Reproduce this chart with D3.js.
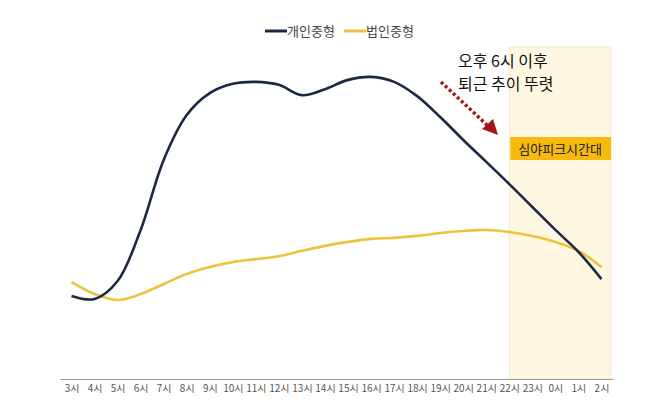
<!DOCTYPE html>
<html><head><meta charset="utf-8">
<script src="https://cdn.jsdelivr.net/npm/d3@7"></script>
<style>body{margin:0;background:#fff;font-family:"Noto Sans CJK KR","Noto Sans",sans-serif}</style>
</head><body><svg id="c" width="658" height="412"></svg>
<script>
const hours = ["3시","4시","5시","6시","7시","8시","9시","10시","11시","12시","13시","14시","15시","16시","17시","18시","19시","20시","21시","22시","23시","0시","1시","2시"];
const personal = [25.0,24.1,29.5,44.9,66.0,79.5,86.1,88.9,89.5,88.6,85.5,87.3,90.1,91.0,89.5,85.2,78.9,72.0,65.4,58.7,51.8,44.9,38.3,30.1];
const corporate = [29.2,25.6,23.8,25.6,28.6,31.6,33.7,35.2,36.1,37.0,38.6,40.1,41.3,42.2,42.5,43.1,44.0,44.6,44.9,44.3,43.1,41.3,38.6,33.7];
const seriesNames = ["개인중형","법인중형"];
const bandStart = "22시", bandEnd = "2시";
const bandLabel = "심야피크시간대";
const noteLines = ["오후 6시 이후","퇴근 추이 뚜렷"];

const svg = d3.select("#c");
const x = d3.scalePoint().domain(hours).range([60,613]).padding(0.5);
const y = d3.scaleLinear().domain([0,100]).range([379,47]);

// band
const bx0 = x(bandStart), bx1 = 611;
svg.append("rect").attr("x",bx0).attr("y",y(100)).attr("width",bx1-bx0).attr("height",y(0)-y(100))
  .attr("fill","#fff7e1").attr("stroke","#f6ebc9").attr("stroke-width",1);
svg.append("rect").attr("x",bx0+1).attr("y",137).attr("width",bx1-bx0-1).attr("height",23).attr("fill","#f7b90b");
svg.append("text").attr("x",(bx0+bx1)/2).attr("y",153.5).attr("text-anchor","middle")
  .attr("font-size",13).attr("fill","#222").text(bandLabel);

// axis
const ax = svg.append("g").attr("transform","translate(0,379)")
  .call(d3.axisBottom(x).tickSize(0).tickPadding(6).tickSizeOuter(0));
ax.select(".domain").attr("stroke","#9a9a9a").attr("stroke-width",1.2);
ax.selectAll("text").attr("font-size",10).attr("fill","#555").attr("font-family","'Noto Sans CJK KR',sans-serif");

// lines
const line = d3.line().x((d,i)=>x(hours[i])).y(d=>y(d)).curve(d3.curveCatmullRom.alpha(0.5));
svg.append("path").datum(corporate).attr("d",line).attr("fill","none").attr("stroke","#ebc43c").attr("stroke-width",2.6);
svg.append("path").datum(personal).attr("d",line).attr("fill","none").attr("stroke","#1d2844").attr("stroke-width",2.6);

// legend
const lg = svg.append("g");
const legendItems = [{name:seriesNames[0],c:"#1d2844",x:265},{name:seriesNames[1],c:"#ebc43c",x:344}];
legendItems.forEach(it=>{
  lg.append("line").attr("x1",it.x).attr("x2",it.x+22).attr("y1",31).attr("y2",31).attr("stroke",it.c).attr("stroke-width",3);
  lg.append("text").attr("x",it.x+22).attr("y",35.5).attr("font-size",13).attr("fill","#444").text(it.name);
});

// annotation
noteLines.forEach((t,i)=>{
  svg.append("text").attr("x",458).attr("y",67+i*23).attr("font-size",16).attr("fill","#111").text(t);
});
svg.append("line").attr("x1",441).attr("y1",82).attr("x2",487).attr("y2",125)
  .attr("stroke","#a3151b").attr("stroke-width",3.5).attr("stroke-dasharray","3,2.5");
svg.append("path").attr("d","M482,129 L493,119 L498,135 Z").attr("fill","#a3151b");
</script></body></html>
